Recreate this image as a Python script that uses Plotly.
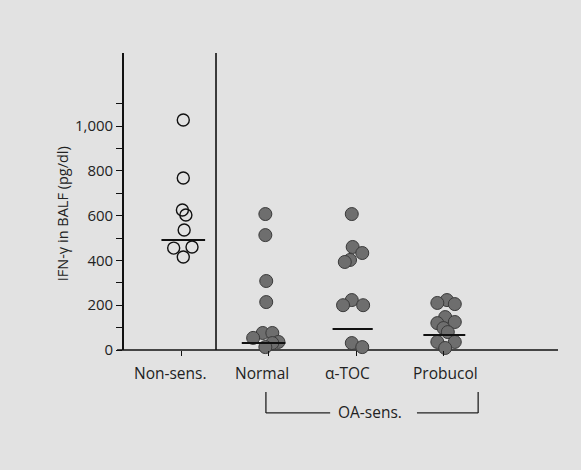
import plotly.graph_objects as go

# ---------------- data ----------------
categories = ["Non-sens.", "Normal", "α-TOC", "Probucol"]
cat_pos = [0, 1, 2, 3]

nonsens_vals = [1027, 768, 625, 603, 536, 460, 455, 415]
nonsens_dx = [0.02, 0.02, 0.01, 0.05, 0.03, 0.12, -0.09, 0.02]

normal_vals = [607, 513, 308, 214, 76, 76, 54, 36, 31, 13]
normal_dx = [-0.04, -0.04, -0.03, -0.03, -0.07, 0.04, -0.18, 0.11, 0.04, -0.04]

atoc_vals = [607, 460, 433, 402, 393, 223, 200, 200, 31, 13]
atoc_dx = [-0.05, -0.04, 0.07, -0.07, -0.13, -0.05, -0.15, 0.08, -0.05, 0.07]

probucol_vals = [223, 210, 205, 147, 125, 120, 98, 80, 36, 36, 9]
probucol_dx = [0.04, -0.07, 0.13, 0.02, 0.13, -0.07, 0.0, 0.05, -0.07, 0.13, 0.02]

mean_vals = [491, 31, 94, 67]
mean_dx = [0.02, -0.06, -0.04, 0.01]
mean_hw = [0.25, 0.25, 0.23, 0.24]

label_dx = [-0.13, -0.08, -0.10, 0.02]

ytick_vals = list(range(0, 1200, 100))
ytick_text = ["0", "", "200", "", "400", "", "600", "", "800", "", "1,000", ""]

y_title = "IFN-γ in BALF (pg/dl)"
group_label = "OA-sens."

# ---------------- figure ----------------
FONT = "Open Sans"
TXT = "#222222"
BG = "#e2e2e2"

fig = go.Figure()

fig.add_trace(go.Scatter(
    x=[cat_pos[0] + d for d in nonsens_dx], y=nonsens_vals, mode="markers",
    marker=dict(symbol="circle-open", size=12, color="#111111", line=dict(width=1.4)),
    cliponaxis=False, showlegend=False))

filled = [(1, normal_vals, normal_dx), (2, atoc_vals, atoc_dx), (3, probucol_vals, probucol_dx)]
for ci, vals, dxs in filled:
    fig.add_trace(go.Scatter(
        x=[cat_pos[ci] + d for d in dxs], y=vals, mode="markers",
        marker=dict(symbol="circle", size=13, color="#6e6e6e",
                    line=dict(width=1, color="#3a3a3a")),
        cliponaxis=False, showlegend=False))

for ci in range(4):
    c = cat_pos[ci] + mean_dx[ci]
    fig.add_trace(go.Scatter(
        x=[c - mean_hw[ci], c + mean_hw[ci]], y=[mean_vals[ci], mean_vals[ci]],
        mode="lines", line=dict(color="#111111", width=2),
        cliponaxis=False, showlegend=False))

# category labels
for ci, name in enumerate(categories):
    fig.add_annotation(x=cat_pos[ci] + label_dx[ci], y=-0.077, xref="x", yref="paper",
                       text=name, showarrow=False, xanchor="center", yanchor="middle",
                       font=dict(family=FONT, size=15.5, color=TXT))

# y title
fig.add_annotation(x=-0.143, y=0.46, xref="paper", yref="paper", text=y_title,
                   showarrow=False, textangle=-90, xanchor="center", yanchor="middle",
                   font=dict(family=FONT, size=14.5, color=TXT))

# group bracket
fig.add_annotation(x=0.567, y=-0.209, xref="paper", yref="paper", text=group_label,
                   showarrow=False, xanchor="center", yanchor="middle",
                   font=dict(family=FONT, size=15.5, color=TXT))
L = dict(color="#222222", width=1.3)
fig.add_shape(type="line", xref="paper", yref="paper", x0=0.327, x1=0.327, y0=-0.141, y1=-0.212, line=L)
fig.add_shape(type="line", xref="paper", yref="paper", x0=0.816, x1=0.816, y0=-0.141, y1=-0.212, line=L)
fig.add_shape(type="line", xref="paper", yref="paper", x0=0.327, x1=0.475, y0=-0.212, y1=-0.212, line=L)
fig.add_shape(type="line", xref="paper", yref="paper", x0=0.675, x1=0.816, y0=-0.212, y1=-0.212, line=L)

# x axis line and divider
fig.add_shape(type="line", xref="paper", yref="paper", x0=-0.016, x1=1.0, y0=0, y1=0,
              line=dict(color="#111111", width=1.6), layer="below")
fig.add_shape(type="line", xref="paper", yref="paper", x0=0.212, x1=0.212, y0=0, y1=1.0,
              line=dict(color="#111111", width=1.6), layer="below")

fig.update_layout(
    width=581, height=470,
    margin=dict(l=124, r=23, t=53, b=120),
    paper_bgcolor=BG, plot_bgcolor=BG,
    font=dict(family=FONT, color=TXT),
    xaxis=dict(range=[-0.659, 4.312], showgrid=False, zeroline=False, showline=False,
               tickvals=cat_pos, ticktext=["" for _ in cat_pos], ticks="outside",
               ticklen=5, tickwidth=1.2, tickcolor="#111111", fixedrange=True),
    yaxis=dict(range=[0, 1326], showgrid=False, zeroline=False, showline=True,
               linecolor="#111111", linewidth=1.6,
               tickvals=ytick_vals, ticktext=ytick_text, ticks="outside",
               ticklen=6, tickwidth=1.2, tickcolor="#111111",
               tickfont=dict(family=FONT, size=15, color=TXT), fixedrange=True),
)

fig.write_html("out.html")
